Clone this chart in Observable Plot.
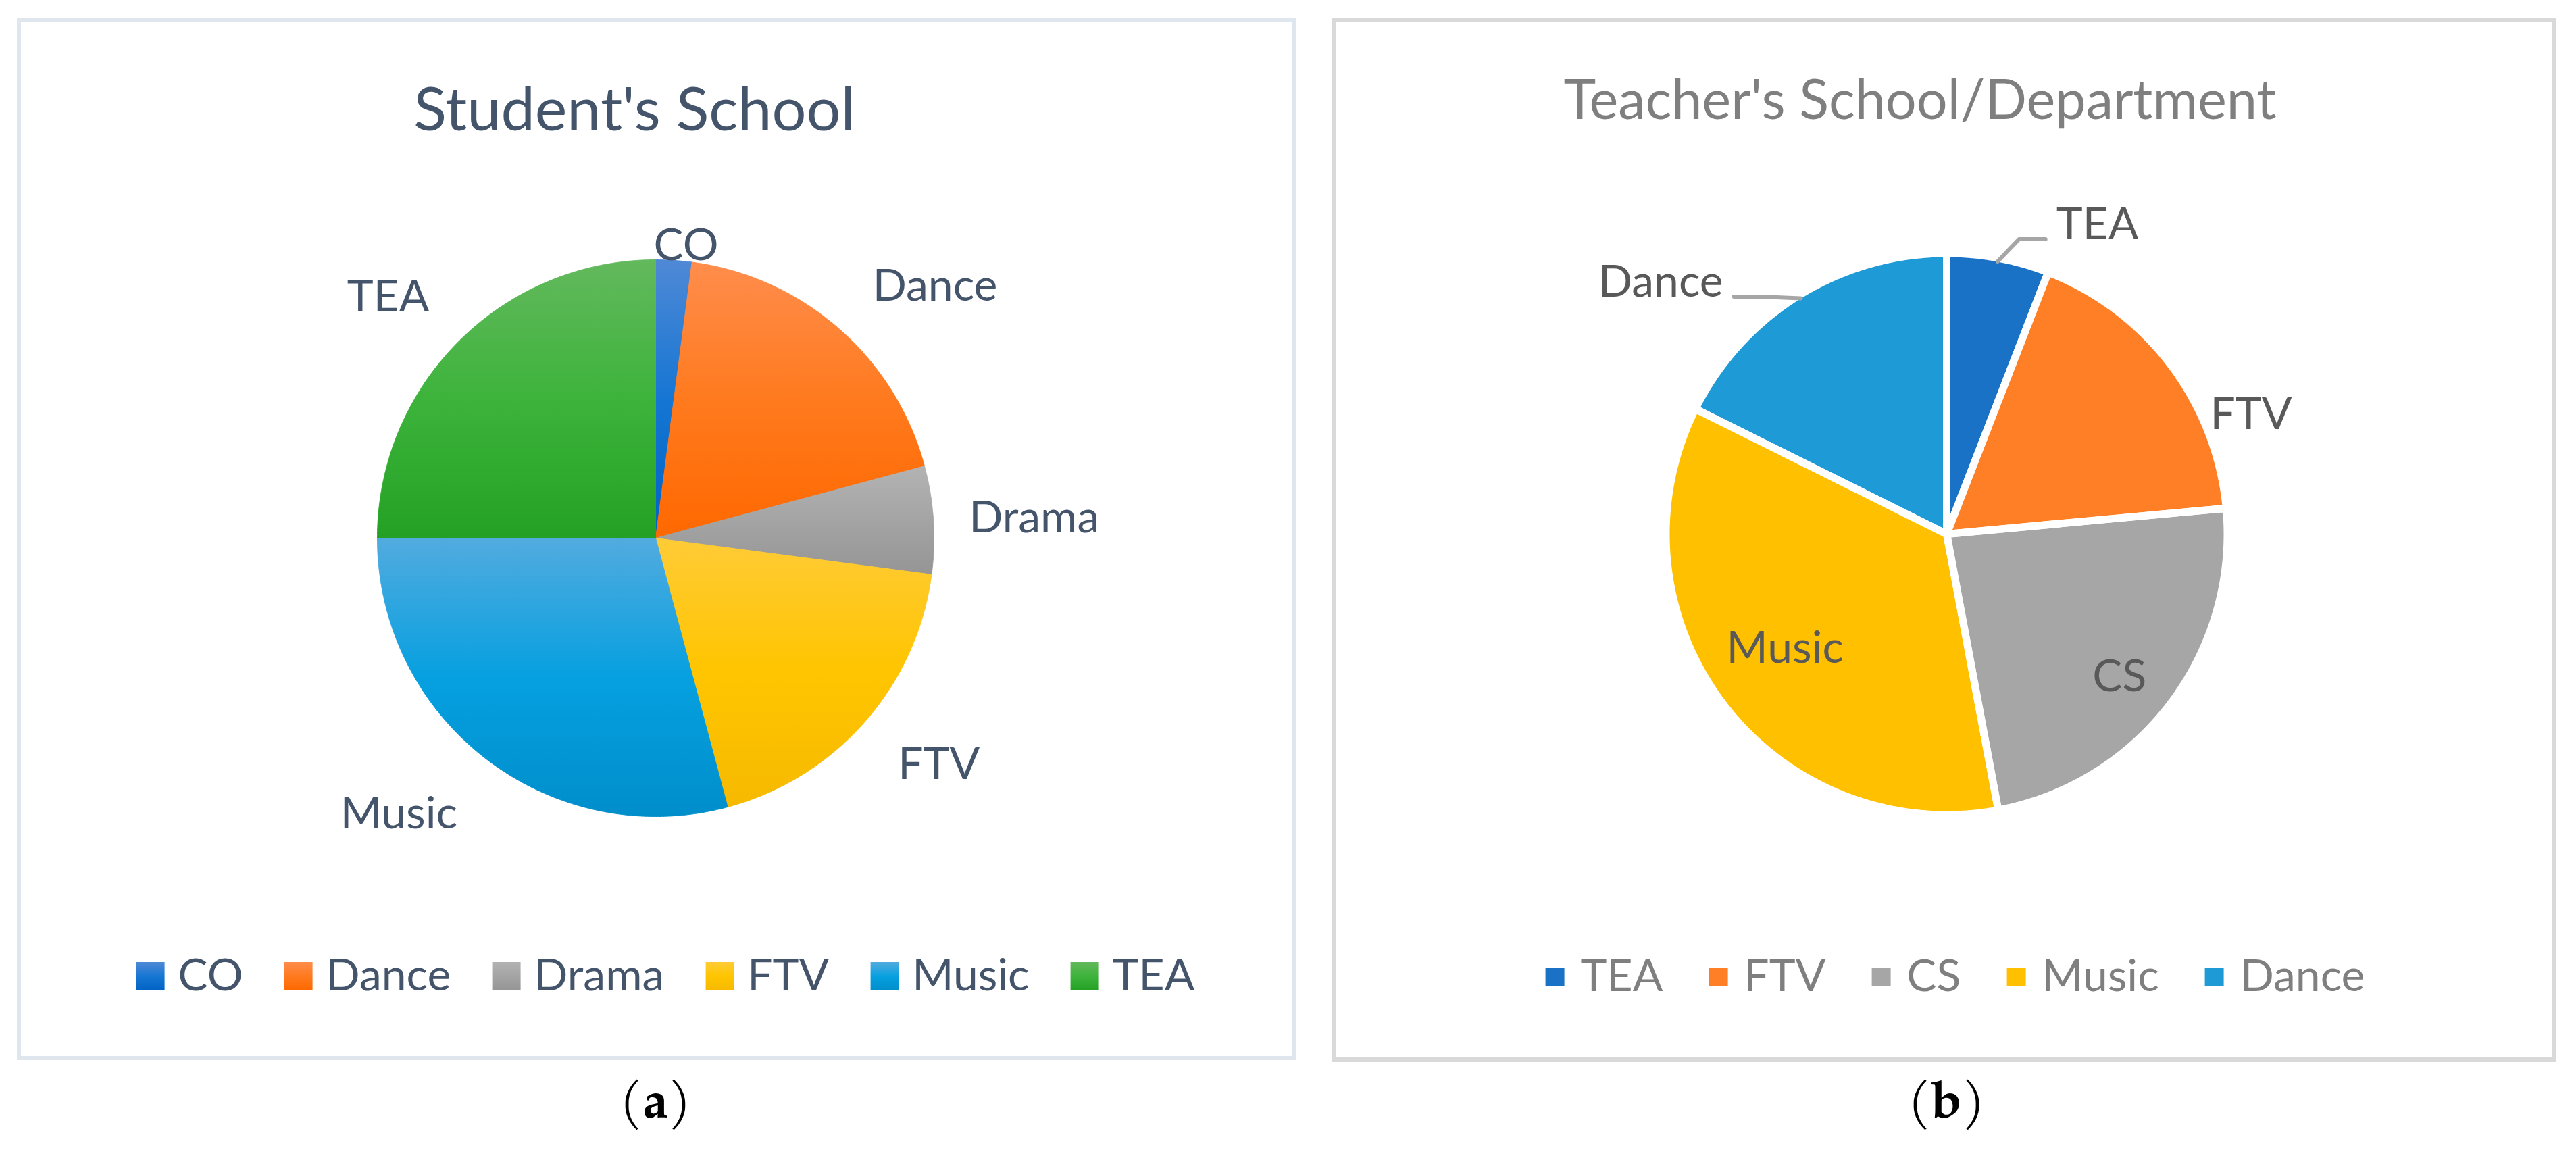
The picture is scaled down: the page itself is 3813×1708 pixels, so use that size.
<!DOCTYPE html>
<html>
<head>
<meta charset="utf-8">
<script src="https://cdn.jsdelivr.net/npm/d3@7"></script>
<script src="https://cdn.jsdelivr.net/npm/@observablehq/plot@0.6"></script>
<style>
  html, body { margin: 0; padding: 0; background: #fff; }
  body { width: 3813px; height: 1708px; position: relative; overflow: hidden; font-family: Lato, "Open Sans", sans-serif; }
  .frame { position: absolute; box-sizing: border-box; background: #fff; }
  .abs { position: absolute; white-space: nowrap; }
  .title { transform: translateX(-50%); }
  .legend { transform: translateX(-50%); display: flex; align-items: baseline; }
  .legend .item { display: inline-flex; align-items: baseline; }
  .legend .sw { display: inline-block; }
  .caption { transform: translateX(-50%); font-family: "Palatino Linotype", Palatino, "TeX Gyre Pagella", "URW Palladio L", "Liberation Serif", serif; color: #000; }
  .plotbox { position: absolute; }
  .plotbox svg { overflow: visible; max-width: none !important; }
</style>
</head>
<body>
<svg width="0" height="0" style="position:absolute;left:0;top:0"><defs id="grads"></defs></svg>
<script>
// ---------------- DATA ----------------
const studentSchools = ["CO", "Dance", "Drama", "FTV", "Music", "TEA"];
const studentCounts  = [1, 9, 3, 9, 14, 12];

const teacherSchools = ["TEA", "FTV", "CS", "Music", "Dance"];
const teacherCounts  = [1, 3, 4, 6, 3];

const chartTitles   = ["Student's School", "Teacher's School/Department"];
const panelCaptions = ["a", "b"];

// ---------------- STYLE ----------------
const studentGradients = [
  ["#4f89d6", "#1676d3", "#0062c4"],   // CO
  ["#ff8d4c", "#ff7a1e", "#ff6800"],   // Dance
  ["#b3b3b3", "#a4a4a4", "#959595"],   // Drama
  ["#ffcb36", "#ffc500", "#f6b900"],   // FTV
  ["#52abdf", "#06a0e0", "#008ecb"],   // Music
  ["#63b95d", "#3db33b", "#24a125"]    // TEA
];
const teacherColors = ["#1a72c7", "#fe7f26", "#a6a6a6", "#ffc000", "#1e9bd7"];

const leftText  = "#44546A";
const rightLabelText = "#595959";
const rightOtherText = "#7f7f7f";
const fontStack = "Lato, 'Open Sans', sans-serif";

// layout of the two panels (page pixels)
const layoutA = {
  frame: {left: 25, top: 26, width: 1893, height: 1543, border: 6, color: "#dfe6ee"},
  title: {cx: 939, baseline: 193, size: 90},
  plot: {left: 31, top: 240, width: 1881, height: 1090},
  pie: {cx: 970, cy: 796, r: 412},
  legend: {cx: 985, baseline: 1467, size: 66, sw: 42, swh: 42, swGap: 20, itemGap: 61, swLift: 0},
  caption: {cx: 970, baseline: 1663, size: 76},
  labelSize: 66,
  // [angle offset (deg), radius factor, textAnchor, lineAnchor]
  labels: [
    [2.5, 1.004, "middle", "bottom"],
    [1.2, 1.155, "start", "bottom"],
    [0.1, 1.128, "start", "middle"],
    [-0.45, 1.15, "start", "top"],
    [0, 1.17, "end", "top"],
    [0, 1.15, "end", "bottom"]
  ]
};
const layoutB = {
  frame: {left: 1971, top: 26, width: 1813, height: 1546, border: 7, color: "#d9d9d9"},
  title: {cx: 2842, baseline: 176, size: 81},
  plot: {left: 1978, top: 240, width: 1799, height: 1090},
  pie: {cx: 2881, cy: 790, r: 415.5},
  sliceGap: 11,
  legend: {cx: 2894, baseline: 1468, size: 66, sw: 28, swh: 27, swGap: 24, itemGap: 68, swLift: 7},
  caption: {cx: 2881, baseline: 1663, size: 76},
  labelSize: 66,
  labels: [
    [8.93, 1.1685, "start", "middle"],
    [12.75, 1.03, "start", "middle"],
    [2.5, 0.7985, "middle", "middle"],
    [1.8, 0.705, "middle", "middle"],
    [-9.85, 1.199, "end", "middle"]
  ],
  leaders: [true, false, false, false, true],
  leaderStyle: {color: "#a6a6a6", width: 6, gapPx: 16, dropPx: 21, runPx: 39, edge: 0.988}
};

// ---------------- HELPERS ----------------
const body = d3.select("body");

function slices(names, values) {
  const arcs = d3.pie().sort(null).value(d => d)(values);
  return arcs.map((a, i) => {
    const pts = [{x: 0, y: 0}];
    const n = Math.max(4, Math.ceil((a.endAngle - a.startAngle) / 0.003));
    for (let k = 0; k <= n; k++) {
      const t = a.startAngle + (a.endAngle - a.startAngle) * k / n;
      pts.push({x: Math.sin(t), y: Math.cos(t)});
    }
    pts.push({x: 0, y: 0});
    pts.forEach(p => p.name = names[i]);
    return {name: names[i], index: i, mid: (a.startAngle + a.endAngle) / 2, pts};
  });
}

function polar(angleRad, radius) {
  return {x: Math.sin(angleRad) * radius, y: Math.cos(angleRad) * radius};
}

function baselineTop(baseline, size) { return baseline - 0.887 * size; }

function drawFrame(L) {
  body.append("div").attr("class", "frame")
    .style("left", L.frame.left + "px").style("top", L.frame.top + "px")
    .style("width", L.frame.width + "px").style("height", L.frame.height + "px")
    .style("border", `${L.frame.border}px solid ${L.frame.color}`);
}

function drawTitle(L, text, color) {
  body.append("div").attr("class", "abs title").text(text)
    .style("left", L.title.cx + "px")
    .style("top", baselineTop(L.title.baseline, L.title.size) + "px")
    .style("font-size", L.title.size + "px")
    .style("line-height", L.title.size + "px")
    .style("color", color);
}

function drawLegend(L, names, swatchFill, color) {
  const lg = L.legend;
  const div = body.append("div").attr("class", "abs legend")
    .style("left", lg.cx + "px")
    .style("top", baselineTop(lg.baseline, lg.size) + "px")
    .style("font-size", lg.size + "px")
    .style("line-height", lg.size + "px")
    .style("color", color);
  names.forEach((n, i) => {
    const it = div.append("span").attr("class", "item")
      .style("margin-right", i < names.length - 1 ? lg.itemGap + "px" : "0px");
    it.append("span").attr("class", "sw")
      .style("width", lg.sw + "px").style("height", lg.swh + "px")
      .style("margin-right", lg.swGap + "px")
      .style("position", "relative").style("top", (-lg.swLift) + "px")
      .style("background", swatchFill(i));
    it.append("span").text(n);
  });
}

function drawCaption(L, letter) {
  const c = L.caption;
  const sz = c.size;
  const d = body.append("div").attr("class", "abs caption")
    .style("left", c.cx + "px")
    .style("top", (c.baseline - 0.8375 * sz) + "px")
    .style("font-size", sz + "px")
    .style("line-height", sz + "px");
  d.append("span").text("(");
  d.append("b").text(letter);
  d.append("span").text(")");
}

function scalesFor(L) {
  const cx = L.pie.cx - L.plot.left, cy = L.pie.cy - L.plot.top, r = L.pie.r;
  return {
    x: {type: "linear", domain: [-1, 1], range: [cx - r, cx + r], axis: null},
    y: {type: "linear", domain: [-1, 1], range: [cy + r, cy - r], axis: null}
  };
}

function labelMarks(L, sl, color) {
  const rows = sl.map((s, i) => {
    const [off, f, ta, la] = L.labels[i];
    const p = polar(s.mid + off * Math.PI / 180, f);
    return {x: p.x, y: p.y, text: s.name, key: ta + "|" + la};
  });
  const groups = d3.groups(rows, d => d.key);
  return groups.map(([key, data]) => {
    const [ta, la] = key.split("|");
    return Plot.text(data, {
      x: "x", y: "y", text: "text",
      textAnchor: ta, lineAnchor: la,
      fontSize: L.labelSize, fontFamily: fontStack, fill: color
    });
  });
}

function mount(L, svg) {
  body.append("div").attr("class", "plotbox")
    .style("left", L.plot.left + "px").style("top", L.plot.top + "px")
    .style("width", L.plot.width + "px").style("height", L.plot.height + "px")
    .node().appendChild(svg);
}

// ---------------- GRADIENTS ----------------
const defs = d3.select("#grads");
studentSchools.forEach((s, i) => {
  const g = defs.append("linearGradient").attr("id", "gs" + i)
    .attr("x1", 0).attr("y1", 0).attr("x2", 0).attr("y2", 1);
  studentGradients[i].forEach((c, k, arr) =>
    g.append("stop").attr("offset", k / (arr.length - 1)).attr("stop-color", c));
});

// ---------------- PANEL A ----------------
drawFrame(layoutA);
drawTitle(layoutA, chartTitles[0], leftText);
{
  const sl = slices(studentSchools, studentCounts);
  const marks = sl.map(s => Plot.line(s.pts, {
    x: "x", y: "y", fill: `url(#gs${s.index})`, stroke: `url(#gs${s.index})`,
    strokeWidth: 1, curve: "linear"
  }));
  const svg = Plot.plot({
    width: layoutA.plot.width, height: layoutA.plot.height, margin: 0,
    style: {background: "transparent", overflow: "visible"},
    ...scalesFor(layoutA),
    marks: [...marks, ...labelMarks(layoutA, sl, leftText)]
  });
  mount(layoutA, svg);
}
drawLegend(layoutA, studentSchools,
  i => `linear-gradient(to bottom, ${studentGradients[i].join(", ")})`, leftText);
drawCaption(layoutA, panelCaptions[0]);

// ---------------- PANEL B ----------------
drawFrame(layoutB);
drawTitle(layoutB, chartTitles[1], rightOtherText);
{
  const sl = slices(teacherSchools, teacherCounts);
  const allPts = sl.flatMap(s => s.pts);
  const r = layoutB.pie.r;
  const ls = layoutB.leaderStyle;
  const leaderRows = [];
  sl.forEach((s, i) => {
    if (!layoutB.leaders[i]) return;
    const [off, f, ta] = layoutB.labels[i];
    const a = polar(s.mid + off * Math.PI / 180, f);
    const dir = ta === "start" ? -1 : 1;
    const p2 = {x: a.x + dir * ls.gapPx / r, y: a.y - ls.dropPx / r};
    const p1 = {x: p2.x + dir * ls.runPx / r, y: p2.y};
    const p0 = polar(s.mid, ls.edge);
    [p0, p1, p2].forEach(p => leaderRows.push({x: p.x, y: p.y, name: s.name}));
  });
  const svg = Plot.plot({
    width: layoutB.plot.width, height: layoutB.plot.height, margin: 0,
    style: {background: "transparent", overflow: "visible"},
    ...scalesFor(layoutB),
    color: {domain: teacherSchools, range: teacherColors},
    marks: [
      Plot.line(allPts, {x: "x", y: "y", z: "name", fill: "name", stroke: null, curve: "linear"}),
      Plot.line(allPts, {x: "x", y: "y", z: "name", fill: "none", stroke: "white",
        strokeWidth: layoutB.sliceGap, strokeLinejoin: "round", curve: "linear"}),
      Plot.line(leaderRows, {x: "x", y: "y", z: "name", stroke: ls.color, strokeWidth: ls.width, curve: "linear"}),
      ...labelMarks(layoutB, sl, rightLabelText)
    ]
  });
  mount(layoutB, svg);
}
drawLegend(layoutB, teacherSchools, i => teacherColors[i], rightOtherText);
drawCaption(layoutB, panelCaptions[1]);
</script>
</body>
</html>
